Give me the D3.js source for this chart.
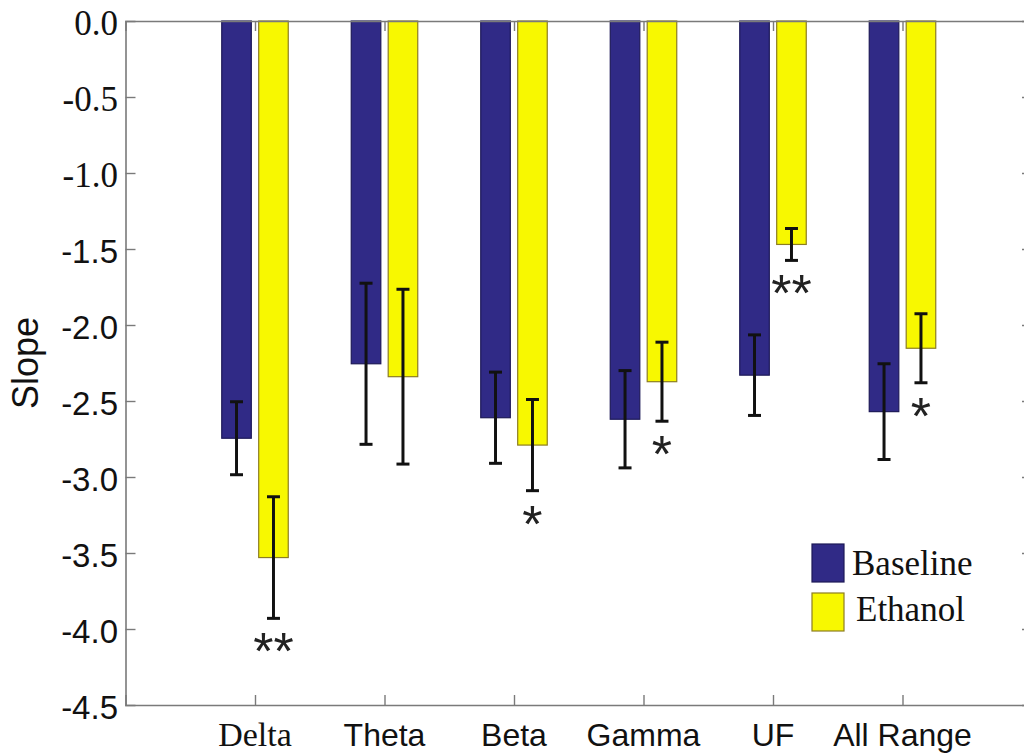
<!DOCTYPE html>
<html>
<head>
<meta charset="utf-8">
<script src="https://cdn.jsdelivr.net/npm/d3@7"></script>
<style>
  html, body { margin: 0; padding: 0; background: #fff; }
  svg { display: block; }
</style>
</head>
<body>
<svg id="chart" width="1024" height="753"></svg>
<script>
// Spectral slope per frequency band, baseline vs. ethanol
const bands = ["Delta", "Theta", "Beta", "Gamma", "UF", "All Range"];
const series = ["Baseline", "Ethanol"];
const baselineMean = [-2.745, -2.255, -2.61, -2.62, -2.33, -2.57];
const baselineErr  = [0.24, 0.53, 0.30, 0.32, 0.265, 0.315];
const ethanolMean  = [-3.53, -2.34, -2.79, -2.373, -1.47, -2.153];
const ethanolErr   = [0.40, 0.575, 0.30, 0.26, 0.105, 0.227];
const ethanolSig   = ["**", "", "*", "*", "**", "*"];
const yTicks = [0, -0.5, -1, -1.5, -2, -2.5, -3, -3.5, -4, -4.5];
const yTickLabels = ["0.0", "-0.5", "-1.0", "-1.5", "-2.0", "-2.5", "-3.0", "-3.5", "-4.0", "-4.5"];

(function () {
const SERIF = "'Liberation Serif', 'Times New Roman', serif";
const SANS = "'Liberation Sans', Arial, Helvetica, sans-serif";
const colors = { Baseline: "#302a86", Ethanol: "#f8f800" };
const edges = { Baseline: "#1d1958", Ethanol: "#8c7d22" };
const axisColor = "#7a7a7a";

const svg = d3.select("#chart");
const plotLeft = 125.5, plotRight = 1032, plotTop = 21, plotBottom = 705;

const x = d3.scalePoint().domain(bands).range([plotLeft, plotRight]).padding(1);
const xs = d3.scaleBand().domain(series).range([-33.25, 33.25]).paddingInner(0.2);
const y = d3.scaleLinear().domain([0, -4.5]).range([plotTop, plotBottom]);

const rows = [];
bands.forEach((b, i) => {
  rows.push({ band: b, s: "Baseline", v: baselineMean[i], e: baselineErr[i], sig: "" });
  rows.push({ band: b, s: "Ethanol", v: ethanolMean[i], e: ethanolErr[i], sig: ethanolSig[i] });
});
const cx = d => x(d.band) + xs(d.s) + xs.bandwidth() / 2;

// bars hang from zero
svg.append("g").selectAll("rect").data(rows).join("rect")
  .attr("x", d => x(d.band) + xs(d.s))
  .attr("width", xs.bandwidth())
  .attr("y", y(0))
  .attr("height", d => y(d.v) - y(0))
  .attr("fill", d => colors[d.s])
  .attr("stroke", d => edges[d.s])
  .attr("stroke-width", 1.2);

// frame axes
const axisG = svg.append("g");
const yLeft = axisG.append("g").attr("transform", `translate(${plotLeft},0)`)
  .call(d3.axisRight(y).tickValues(yTicks).tickSize(10).tickFormat(""));
const yRight = axisG.append("g").attr("transform", `translate(${plotRight},0)`)
  .call(d3.axisLeft(y).tickValues(yTicks).tickSize(10).tickFormat(""));
const xBottom = axisG.append("g").attr("transform", `translate(0,${plotBottom})`)
  .call(d3.axisTop(x).tickSize(10).tickFormat(""));
const xTop = axisG.append("g").attr("transform", `translate(0,${plotTop})`)
  .call(d3.axisBottom(x).tickSize(10).tickFormat(""));
[yLeft, yRight, xBottom, xTop].forEach(g => {
  g.selectAll(".domain").attr("stroke", axisColor).attr("stroke-width", 1.6);
  g.selectAll(".tick line").attr("stroke", axisColor).attr("stroke-width", 1.4);
});
yLeft.selectAll(".tick").filter(d => d === 0 || d === -4.5).select("line").remove();
yRight.selectAll(".tick").filter(d => d === 0 || d === -4.5).select("line").remove();

// error bars
const eb = svg.append("g").attr("stroke", "#111").attr("stroke-width", 3);
rows.forEach(d => {
  const c = cx(d), y1 = y(d.v + d.e), y2 = y(d.v - d.e);
  eb.append("line").attr("x1", c).attr("x2", c).attr("y1", y1).attr("y2", y2);
  eb.append("line").attr("x1", c - 6.5).attr("x2", c + 6.5).attr("y1", y1).attr("y2", y1);
  eb.append("line").attr("x1", c - 6.5).attr("x2", c + 6.5).attr("y1", y2).attr("y2", y2);
});

// significance marks
svg.append("g").selectAll("text").data(rows.filter(d => d.sig)).join("text")
  .attr("x", d => cx(d))
  .attr("y", d => y(d.v - d.e) + 22 + 29)
  .attr("text-anchor", "middle")
  .attr("font-family", SANS)
  .attr("font-size", 52)
  .attr("fill", "#222")
  .text(d => d.sig);

// y tick labels
svg.append("g").selectAll("text").data(yTicks).join("text")
  .attr("x", 118)
  .attr("y", (d, i) => y(d) + (i < 3 ? 14 : 13.5))
  .attr("text-anchor", "end")
  .attr("font-family", (d, i) => i < 3 ? SERIF : SANS)
  .attr("font-size", (d, i) => i < 3 ? 35 : 33)
  .attr("fill", "#111")
  .text((d, i) => yTickLabels[i]);

// x tick labels
svg.append("g").selectAll("text").data(bands).join("text")
  .attr("x", d => x(d))
  .attr("y", 746)
  .attr("text-anchor", "middle")
  .attr("font-family", (d, i) => i === 0 ? SERIF : SANS)
  .attr("font-size", (d, i) => i === 0 ? 34 : 32)
  .attr("fill", "#111")
  .text(d => d);

// y axis title
svg.append("text")
  .attr("transform", `translate(38,${(plotTop + plotBottom) / 2}) rotate(-90)`)
  .attr("text-anchor", "middle")
  .attr("font-family", SANS)
  .attr("font-size", 36)
  .attr("fill", "#111")
  .text("Slope");

// legend
const leg = svg.append("g");
series.forEach((s, i) => {
  const g = leg.append("g").attr("transform", `translate(812,${544 + i * 49})`);
  g.append("rect").attr("width", 32).attr("height", 38)
    .attr("fill", colors[s]).attr("stroke", edges[s]).attr("stroke-width", 1.2);
  g.append("text").attr("x", 40 + i * 4).attr("y", 31 - i * 3)
    .attr("font-family", SERIF).attr("font-size", 35).attr("fill", "#111")
    .text(s);
});
})();
</script>
</body>
</html>
